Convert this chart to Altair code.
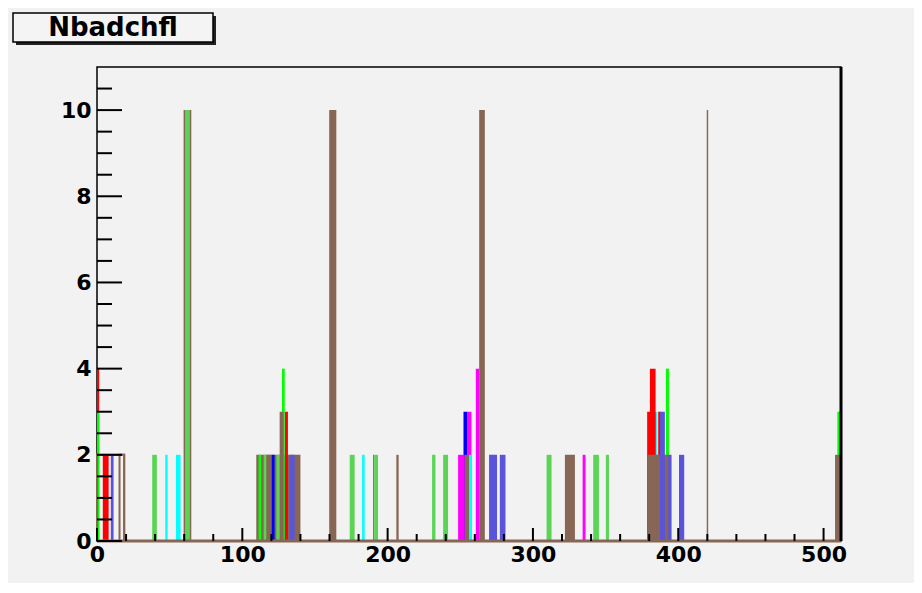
import altair as alt
import pandas as pd

# ---- data (bin start, bin end, count) ----
X_MAX = 512
Y_MAX = 11

red_bins = [(0, 1.5, 4), (4, 8, 2), (129.2, 131.4, 3), (378.6, 384, 3),
            (380.5, 384.4, 4), (386.2, 387.9, 3)]
blue_bins = [(120.2, 122.2, 2), (252.2, 255, 3)]
magenta_bins = [(248.5, 253.1, 2), (255, 257.7, 3), (260.7, 263, 4),
                (334.2, 336.2, 2), (384, 384.8, 3)]
cyan_bins = [(47, 48.6, 2), (54.3, 57.5, 2), (182.4, 184.2, 2),
             (256, 258.1, 2), (384.8, 385.6, 3)]
green_bins = [(0, 1.5, 3), (111.2, 113, 2), (127.3, 129.2, 4),
              (391.5, 393.6, 4), (509.5, 512, 3)]
brown_bins = [(59.6, 64.9, 10), (116.5, 119.9, 2), (125.7, 128.4, 3),
              (159.8, 164.7, 10), (190, 190.8, 2), (206, 207.6, 2),
              (253.1, 256, 2), (263, 266.9, 10), (322, 328.9, 2),
              (378.9, 394.8, 2), (419.6, 420.6, 10), (507.9, 512, 2)]
slate_bins = [(9.5, 11.4, 2), (132.6, 136, 2), (269.8, 275.3, 2),
              (277.2, 281.1, 2), (387.4, 390.8, 3), (393.1, 395.4, 2),
              (400.5, 404.1, 2)]
green8_bins = [(38, 41.2, 2), (60.6, 63.9, 10), (114.7, 116.5, 2),
               (123.4, 125.7, 2), (173.9, 177.3, 2), (190.8, 193.4, 2),
               (230.6, 232.9, 2), (238.2, 241.6, 2), (309.4, 312.8, 2),
               (341.5, 345.4, 2), (350.2, 352.3, 2)]
brown_under_bins = [(109.6, 140, 2)]
brown_outline_bins = [(0, 18.7, 2), (15.5, 18.7, 2)]

x_major = [0, 100, 200, 300, 400, 500]
x_minor = [v for v in range(20, 512, 20) if v % 100 != 0]
y_major = [0, 2, 4, 6, 8, 10]
y_minor = [v / 2 for v in range(1, 22) if (v / 2) not in y_major]

TITLE = "Nbadchfl"

# ---- colours (ROOT palette) ----
series_order = ["brown_under", "red", "blue", "magenta", "cyan", "green",
                "brown", "slate", "green8"]
series_colors = ["#876656", "#ff0000", "#0000ff", "#ff00ff", "#00ffff", "#00ff00",
                 "#876656", "#5954d9", "#59d454"]
BROWN = "#876656"

series_bins = {
    "brown_under": brown_under_bins,
    "red": red_bins, "blue": blue_bins, "magenta": magenta_bins,
    "cyan": cyan_bins, "green": green_bins, "brown": brown_bins,
    "slate": slate_bins, "green8": green8_bins,
}

rows = []
for s in series_order:
    for x0, x1, c in series_bins[s]:
        rows.append({"series": s, "x0": x0, "x1": x1, "count": c, "base": 0})
bars_df = pd.DataFrame(rows)

outline_df = pd.DataFrame([{"x0": a, "x1": b, "count": c, "base": 0}
                           for a, b, c in brown_outline_bins])

W, H = 744, 474

xscale = alt.Scale(domain=[0, X_MAX], nice=False, zero=False)
yscale = alt.Scale(domain=[0, Y_MAX], nice=False)

FONT = "DejaVu Sans"

xaxis = alt.Axis(values=x_major, ticks=False, tickSize=0, domain=False, grid=False,
                 labelFont=FONT, labelFontWeight="bold", labelFontSize=22,
                 labelColor="black", labelPadding=3, labelFlush=False, title=None)
yaxis = alt.Axis(values=y_major, ticks=False, tickSize=0, domain=False, grid=False,
                 labelFont=FONT, labelFontWeight="bold", labelFontSize=22,
                 labelColor="black", labelPadding=6, title=None)

bars = alt.Chart(bars_df).mark_rect().encode(
    x=alt.X("x0:Q", scale=xscale, axis=xaxis),
    x2="x1:Q",
    y=alt.Y("count:Q", scale=yscale, axis=yaxis),
    y2="base:Q",
    color=alt.Color("series:N", scale=alt.Scale(domain=series_order, range=series_colors),
                    legend=None),
)

outlines = alt.Chart(outline_df).mark_rect(fillOpacity=0, stroke=BROWN, strokeWidth=2).encode(
    x=alt.X("x0:Q", scale=xscale), x2="x1:Q",
    y=alt.Y("count:Q", scale=yscale), y2="base:Q",
)

baseline = alt.Chart(pd.DataFrame({"a": [0], "b": [X_MAX], "v": [0]})).mark_rule(
    color=BROWN, strokeWidth=3).encode(
    x=alt.X("a:Q", scale=xscale), x2="b:Q", y=alt.Y("v:Q", scale=yscale))

ytick_major = alt.Chart(pd.DataFrame({"v": y_major})).mark_rule(color="black", strokeWidth=2).encode(
    y=alt.Y("v:Q", scale=yscale), x=alt.value(0), x2=alt.value(25))
ytick_minor = alt.Chart(pd.DataFrame({"v": y_minor})).mark_rule(color="black", strokeWidth=2).encode(
    y=alt.Y("v:Q", scale=yscale), x=alt.value(0), x2=alt.value(15))
xtick_major = alt.Chart(pd.DataFrame({"v": x_major})).mark_rule(color="black", strokeWidth=2).encode(
    x=alt.X("v:Q", scale=xscale), y=alt.value(H), y2=alt.value(H - 13))
xtick_minor = alt.Chart(pd.DataFrame({"v": x_minor})).mark_rule(color="black", strokeWidth=2).encode(
    x=alt.X("v:Q", scale=xscale), y=alt.value(H), y2=alt.value(H - 7))

right_frame = alt.Chart(pd.DataFrame({"v": [X_MAX]})).mark_rule(color="black", strokeWidth=3).encode(
    x=alt.X("v:Q", scale=xscale), y=alt.value(0), y2=alt.value(H))

title_df = pd.DataFrame({"t": [TITLE]})
title_shadow = alt.Chart(title_df).mark_rect(color="#222222").encode(
    x=alt.value(-81), x2=alt.value(119), y=alt.value(-51), y2=alt.value(-22))
title_box = alt.Chart(title_df).mark_rect(fill="#f4f4f4", stroke="black", strokeWidth=1.5).encode(
    x=alt.value(-84), x2=alt.value(116), y=alt.value(-54), y2=alt.value(-25))
title_text = alt.Chart(title_df).mark_text(
    font=FONT, fontWeight="bold", fontSize=26, color="black",
    align="center", baseline="middle").encode(
    x=alt.value(16), y=alt.value(-39), text="t:N")

chart = alt.layer(
    bars, outlines, baseline, ytick_major, ytick_minor, xtick_major, xtick_minor,
    right_frame, title_shadow, title_box, title_text,
).properties(
    width=W, height=H,
    autosize=alt.AutoSizeParams(type="none"),
    padding={"left": 89, "top": 59, "right": 73, "bottom": 42},
    background="#f2f2f2",
).configure_view(
    stroke="black", strokeWidth=1.5, fill="#f2f2f2",
)

chart.save("out.html", embed_options={"renderer": "svg", "actions": False})
